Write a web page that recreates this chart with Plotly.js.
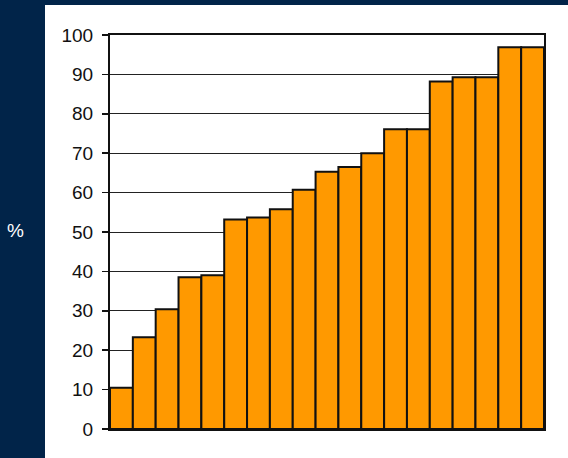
<!DOCTYPE html>
<html>
<head>
<meta charset="utf-8">
<script src="https://cdn.plot.ly/plotly-3.0.1.min.js"></script>
<style>html,body{margin:0;padding:0;background:#012449;}#chart{width:568px;height:458px;}</style>
</head>
<body>
<div id="chart"></div>
<script>
const categories = ["1","2","3","4","5","6","7","8","9","10","11","12","13","14","15","16","17","18","19"];
const values = [10.5, 23.3, 30.4, 38.5, 39.0, 53.2, 53.7, 55.8, 60.7, 65.3, 66.5, 70.0, 76.1, 76.1, 88.2, 89.3, 89.3, 96.9, 96.9];
const yTickValues = [0, 10, 20, 30, 40, 50, 60, 70, 80, 90, 100];
const yLabel = "%";

const L = 110, R = 24, T = 35, B = 29, W = 568, H = 458;
const pw = W - L - R, ph = H - T - B;

const trace = {
  type: "bar",
  x: categories,
  y: values,
  marker: {color: "#ff9900", line: {color: "#111111", width: 2}},
  hoverinfo: "skip"
};

const layout = {
  width: W, height: H,
  margin: {l: L, r: R, t: T, b: B, pad: 0},
  paper_bgcolor: "#012449",
  plot_bgcolor: "#ffffff",
  showlegend: false,
  bargap: 0,
  font: {family: "Liberation Sans, Arial, sans-serif", size: 19, color: "#111111"},
  xaxis: {
    type: "category",
    showticklabels: false,
    ticks: "",
    showgrid: false,
    showline: true, linecolor: "#111111", linewidth: 2, mirror: true,
    zeroline: false, fixedrange: true
  },
  yaxis: {
    range: [0, 100],
    tickvals: yTickValues,
    ticktext: yTickValues.map(String),
    ticks: "outside", ticklen: 6, tickcolor: "#111111", tickwidth: 1.5,
    ticklabelstandoff: 5,
    showgrid: true, gridcolor: "#222222", gridwidth: 1,
    showline: true, linecolor: "#111111", linewidth: 2, mirror: true,
    zeroline: false,
    tickfont: {family: "Liberation Sans, Arial, sans-serif", size: 19, color: "#111111"},
    fixedrange: true
  },
  shapes: [{
    type: "rect", xref: "paper", yref: "paper", layer: "below",
    x0: (45 - L) / pw, x1: (W - L) / pw + 0.01,
    y0: -(B + 2) / ph, y1: (H - T - B + T - 5) / ph,
    fillcolor: "#ffffff", line: {width: 0}
  }],
  annotations: [{
    text: yLabel, xref: "paper", yref: "paper",
    x: (15 - L) / pw, y: (H - B - 230) / ph,
    xanchor: "center", yanchor: "middle", showarrow: false,
    font: {family: "Liberation Sans, Arial, sans-serif", size: 19, color: "#ffffff"}
  }]
};

Plotly.newPlot("chart", [trace], layout, {displayModeBar: false, staticPlot: true});
</script>
</body>
</html>
